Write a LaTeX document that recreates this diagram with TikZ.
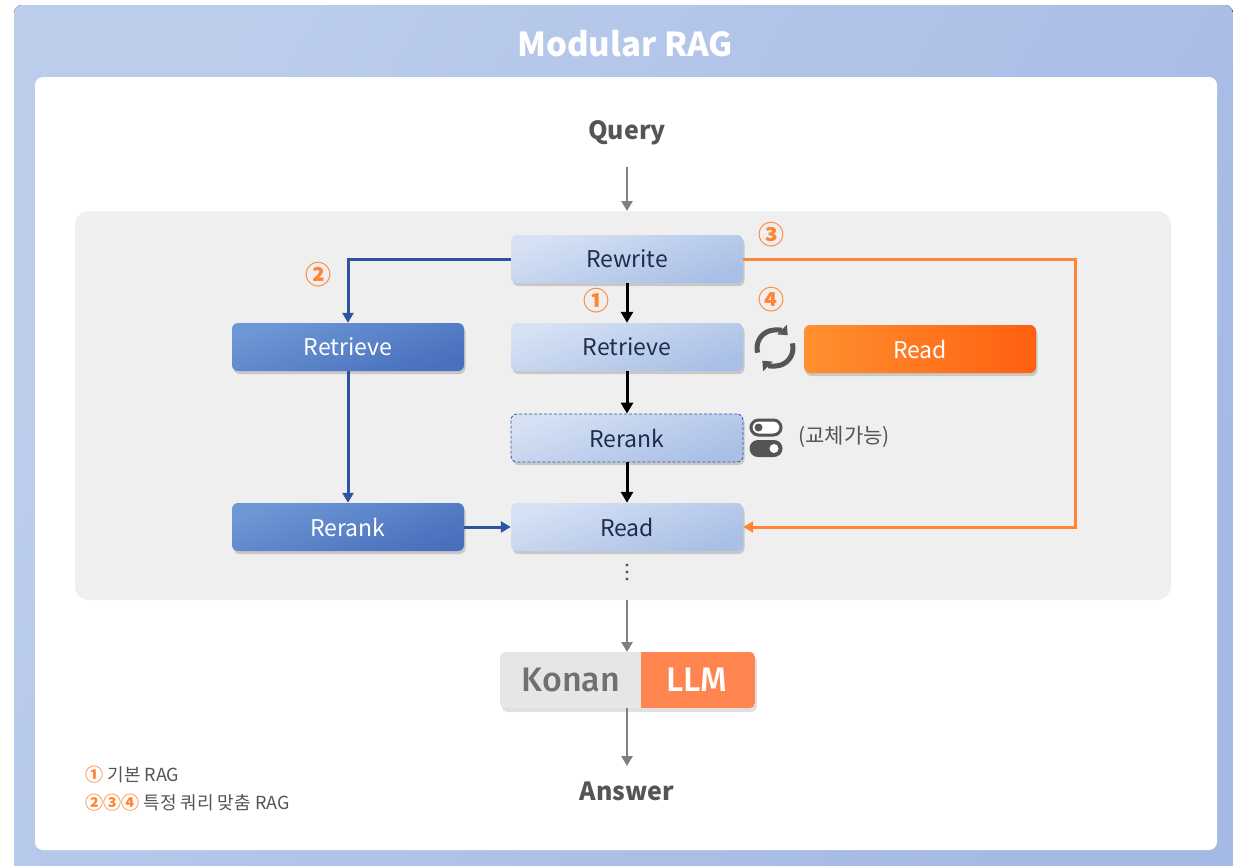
\documentclass[tikz,border=0pt]{standalone}
\usepackage{fontspec}
\setmainfont{Noto Sans CJK KR}
\newfontfamily\konanfont{Fira Sans Medium}
\usetikzlibrary{arrows.meta,shadows,calc}
\definecolor{navytxt}{HTML}{1F2D4D}
\definecolor{lbA}{HTML}{D6E1F4}
\definecolor{lbB}{HTML}{A9BFE6}
\definecolor{dbA}{HTML}{6E97D6}
\definecolor{dbB}{HTML}{4870BC}
\definecolor{orA}{HTML}{FF9030}
\definecolor{orB}{HTML}{FF6010}
\definecolor{bline}{HTML}{2D54A0}
\definecolor{oline}{HTML}{FF8533}
\definecolor{garrow}{HTML}{808080}
\definecolor{panel}{HTML}{EFEFEF}
\definecolor{outA}{HTML}{BCCDEC}
\definecolor{outB}{HTML}{A4B9E4}
\definecolor{icon}{HTML}{555555}
\definecolor{konang}{HTML}{E6E6E4}
\definecolor{konantxt}{HTML}{707070}
\definecolor{llmor}{HTML}{FF8550}
\begin{document}
\begin{tikzpicture}[x=1pt,y=-1pt,
  box/.style={rounded corners=6pt, minimum width=232pt, minimum height=48pt, inner sep=0pt,
    font=\fontsize{23}{26}\selectfont,
    drop shadow={shadow xshift=1.5pt, shadow yshift=-3pt, opacity=0.16, fill=black}},
  lightbox/.style={box, top color=lbA, bottom color=lbB, shading angle=20, text=navytxt},
  darkbox/.style={box, top color=dbA, bottom color=dbB, shading angle=20, text=white},
  orangebox/.style={box, left color=orA, right color=orB, text=white},
  num/.style={text=oline, font=\bfseries\fontsize{26}{28}\selectfont, inner sep=0pt},
  blk/.style={-{Triangle[length=11pt,width=12pt]}, line width=3pt, black},
  bl/.style={-{Triangle[length=10pt,width=11pt]}, line width=3pt, bline},
  ol/.style={-{Triangle[length=10pt,width=11pt]}, line width=3pt, oline},
  gr/.style={-{Triangle[length=10pt,width=11pt]}, line width=2.5pt, garrow},
  lbl/.style={font=\bfseries\fontsize{25}{28}\selectfont, text=icon, inner sep=0pt}
]
\useasboundingbox (0,0) rectangle (1233,865);
% outer frame
\fill[top color=outA, bottom color=outB, shading angle=60, rounded corners=8pt] (14,5) rectangle (1233,880);
\fill[white, rounded corners=8pt] (35,77) rectangle (1217,850);
\node[text=white, font=\bfseries\fontsize{33}{36}\selectfont] (title) at (625,44) {Modular RAG};
% gray panel
\fill[panel, rounded corners=14pt] (75,211) rectangle (1171,600);

\node[lbl] (query) at (627,133) {Query};
\node[lightbox] (rewrite) at (627,259) {Rewrite};
\node[lightbox] (retrieve) at (627,347) {Retrieve};
\node[lightbox, draw=bline, line width=0.8pt, dashed, dash pattern=on 3pt off 2pt] (rerank) at (627,438) {Rerank};
\node[lightbox] (read) at (627,527) {Read};
\node[darkbox] (lretrieve) at (348,347) {Retrieve};
\node[darkbox] (lrerank) at (348,527) {Rerank};
\node[orangebox] (oread) at (920,349) {Read};

\coordinate (entry) at (627,211);
\coordinate (exit) at (627,600);
\node[minimum width=6pt, minimum height=20pt, inner sep=0pt] (dots) at (627,572) {};
\foreach \yy in {-7,0,7} \fill[icon] ($(dots.center)+(0,\yy)$) circle (1.7pt);

% Konan LLM
\coordinate (kl) at (500,652);
\coordinate (kr) at (755,708);
\fill[black, opacity=0.12, rounded corners=5pt] (502,656) rectangle (757,712);
\begin{scope}
\clip[rounded corners=5pt] (kl) rectangle (kr);
\fill[konang] (500,652) rectangle (641,708);
\fill[llmor] (641,652) rectangle (755,708);
\end{scope}
\node[font=\konanfont\fontsize{34}{36}\selectfont, text=konantxt] (konan) at (571,680) {Konan};
\node[font=\konanfont\fontsize{34}{36}\selectfont, text=white] (llm) at (697,680) {LLM};
\coordinate (ktop) at (627,652);
\coordinate (kbot) at (627,708);
\node[lbl] (answer) at (627,791) {Answer};

% arrows
\draw[gr] (query.south) ++(0,22) -- (entry);
\draw[gr] (exit) -- (ktop);
\draw[gr] (kbot) -- (627,766);
\draw[blk] (rewrite.south) -- (retrieve.north);
\draw[blk] (retrieve.south) -- (rerank.north);
\draw[blk] (rerank.south) -- (read.north);
\draw[bl] (rewrite.west) -| (lretrieve.north);
\draw[bl] (lretrieve.south) -- (lrerank.north);
\draw[bl] (lrerank.east) -- (read.west);
\draw[ol] (rewrite.east) -- (1075,259) -- (1075,527) -- (read.east);

% numbers
\node[num] (n1) at (596,301) {①};
\node[num] (n2) at (318,275) {②};
\node[num] (n3) at (771,235) {③};
\node[num] (n4) at (771,300) {④};

% refresh icon
\begin{scope}[shift={(775,348)}, yscale=-1]
\draw[icon, line width=5pt, -{Triangle[length=8pt,width=13pt]}] (195:18) arc (195:45:18);
\draw[icon, line width=5pt, -{Triangle[length=8pt,width=13pt]}] (15:18) arc (15:-135:18);
\end{scope}
% toggle icon
\draw[icon, line width=3pt, fill=white, rounded corners=7.5pt] (751,420) rectangle (781,435);
\fill[icon] (758.5,427.5) circle (4pt);
\fill[icon, rounded corners=8.5pt] (749.5,440) rectangle (782.5,457);
\fill[white] (774,448.5) circle (4.5pt);
\node[text=icon, font=\fontsize{21}{23}\selectfont, anchor=west] (swap) at (795,437) {(교체가능)};

% legend
\node[anchor=west, text=icon, font=\fontsize{18}{20}\selectfont] (leg1) at (82,775) {\textcolor{oline}{\bfseries ①} 기본 RAG};
\node[anchor=west, text=icon, font=\fontsize{18}{20}\selectfont] (leg2) at (82,803) {\textcolor{oline}{\bfseries ②③④} 특정 쿼리 맞춤 RAG};
\end{tikzpicture}
\end{document}
